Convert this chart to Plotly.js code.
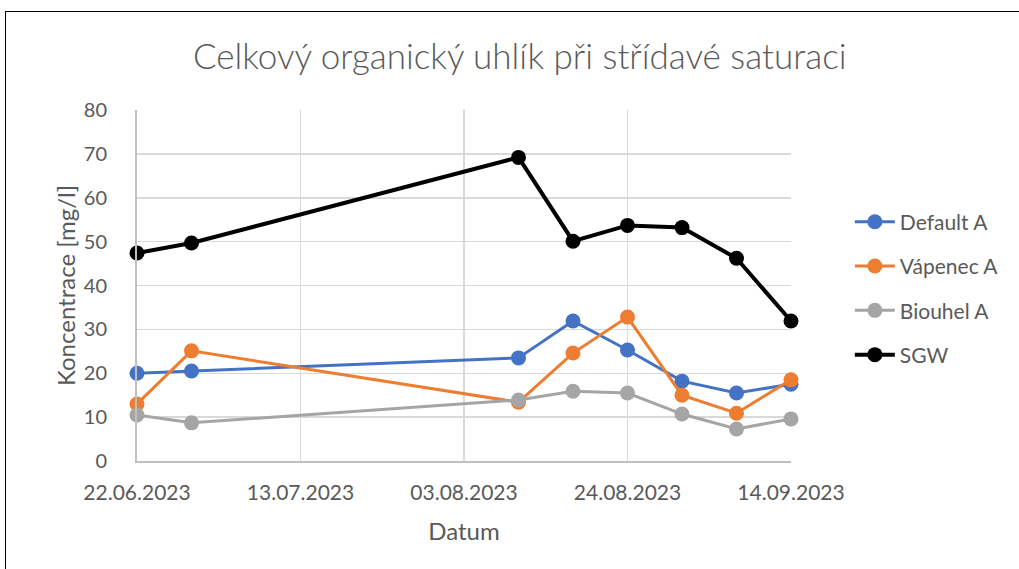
<!DOCTYPE html>
<html><head><meta charset="utf-8">
<script src="https://cdn.plot.ly/plotly-3.0.1.min.js"></script>
<style>html,body{margin:0;padding:0;background:#fff;overflow:hidden;}#frame{position:absolute;left:5px;top:11px;width:1030px;height:580px;border:1.5px solid #000;pointer-events:none;box-sizing:border-box;}</style>
</head><body>
<div id="chart" style="width:1019px;height:569px;"></div>
<div id="frame"></div>
<script>
const dates = ["2023-06-22","2023-06-29","2023-08-10","2023-08-17","2023-08-24","2023-08-31","2023-09-07","2023-09-14"];
const defaultA = [20.0, 20.5, 23.5, 31.9, 25.3, 18.2, 15.5, 17.5];
const vapenecA = [13.0, 25.1, 13.4, 24.6, 32.8, 15.0, 10.9, 18.5];
const biouhelA = [10.5, 8.7, 13.9, 15.9, 15.5, 10.7, 7.3, 9.6];
const sgw = [47.4, 49.7, 69.2, 50.1, 53.7, 53.2, 46.2, 31.9];
const seriesNames = ["Default A","Vápenec A","Biouhel A","SGW"];
const xTickVals = ["2023-06-22","2023-07-13","2023-08-03","2023-08-24","2023-09-14"];
const xTickText = ["22.06.2023","13.07.2023","03.08.2023","24.08.2023","14.09.2023"];
const yTickVals = [0,10,20,30,40,50,60,70,80];

const colors = ["#4472C4","#ED7D31","#A5A5A5","#000000"];
const widths = [3,3,3,4];
const data = [defaultA, vapenecA, biouhelA, sgw].map((ys,i)=>({
  x: dates, y: ys, name: seriesNames[i], type:'scatter', mode:'lines+markers',
  legendgroup: 'g'+i,
  line:{color:colors[i], width:widths[i]},
  marker:{color:colors[i], size:15},
  cliponaxis:false
}));
const font = "Lato, 'Open Sans', sans-serif";
const layout = {
  width:1019, height:569,
  margin:{l:137, r:228, t:110, b:108},
  paper_bgcolor:'#fff', plot_bgcolor:'#fff',
  font:{family:font, color:'#595959', size:20},
  title:{text:'Celkový organický uhlík při střídavé saturaci', font:{family:font, size:35, color:'#595959', weight:300}, x:0.51, xref:'container', xanchor:'center', y:0.90, yanchor:'middle'},
  xaxis:{type:'date', range:['2023-06-22','2023-09-14'], tickmode:'array', tickvals:xTickVals, ticktext:xTickText,
    showgrid:true, gridcolor:'#d9d9d9', gridwidth:1.5, showline:true, linecolor:'#bfbfbf', linewidth:2,
    ticks:'outside', ticklen:12, tickcolor:'rgba(0,0,0,0)', tickfont:{size:21, color:'#595959'},
    zeroline:false,
    title:{text:'Datum', font:{size:24, color:'#595959'}, standoff:20}},
  yaxis:{range:[0,80], tickmode:'array', tickvals:yTickVals, showgrid:true, gridcolor:'#d9d9d9', gridwidth:1.5,
    showline:true, linecolor:'#bfbfbf', linewidth:2, zeroline:false,
    ticks:'outside', ticklen:24, tickcolor:'rgba(0,0,0,0)', tickfont:{size:20, color:'#595959'},
    title:{text:'Koncentrace [mg/l]', font:{size:24, color:'#595959'}, standoff:1}},
  showlegend:true,
  legend:{x:1.09, xanchor:'left', y:0.739, yanchor:'top', font:{size:21, color:'#595959'}, tracegroupgap:14, traceorder:'grouped', itemwidth:40}
};
Plotly.newPlot('chart', data, layout, {displayModeBar:false, staticPlot:true});
</script>
</body></html>
